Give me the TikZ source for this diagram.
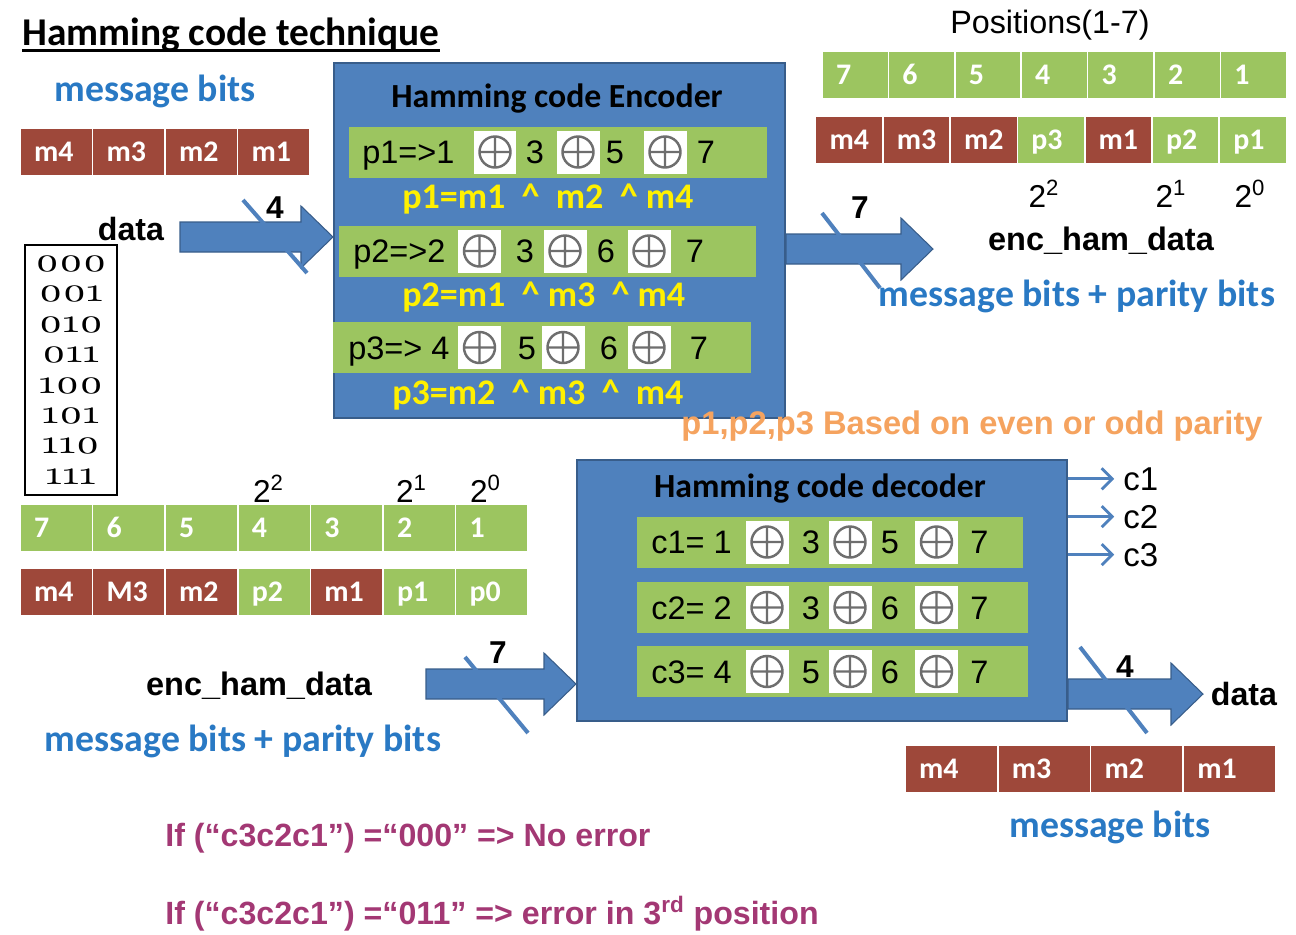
\documentclass[tikz,border=0pt]{standalone}
\usepackage{fontspec}
\usepackage{tikz}
\usepackage{xcolor}
\usetikzlibrary{calc,arrows.meta,positioning}
\setmainfont{Liberation Sans}
\newfontfamily\calfont{Carlito}
\newfontfamily\oldfont{lmroman10-regular.otf}[Numbers=OldStyle,FakeStretch=1.25]
\newcommand{\fsize}[1]{\fontsize{#1}{#1}\selectfont}
\definecolor{coderblue}{RGB}{79,129,189}
\definecolor{coderline}{RGB}{56,93,138}
\definecolor{leaf}{RGB}{156,197,96}
\definecolor{brick}{RGB}{158,72,58}
\definecolor{msgblue}{RGB}{41,121,196}
\definecolor{formula}{RGB}{255,240,0}
\definecolor{parity}{RGB}{245,163,95}
\definecolor{rulepink}{RGB}{163,56,116}
\definecolor{xorgray}{RGB}{110,110,110}
\tikzstyle{txt} = [inner sep=0pt]
\tikzstyle{coder} = [
    rectangle,
    fill=coderblue,
    draw=coderline,
    line width=1.2pt
]
\tikzstyle{bar} = [
    rectangle,
    fill=leaf,
    inner sep=0pt,
    minimum height=1.02cm
]
\tikzstyle{rowtext} = [
    inner sep=0pt,
    font=\fsize{18.5},
    text height=13.2pt,
    text depth=0pt
]
\tikzstyle{xorbox} = [
    rectangle,
    fill=white,
    minimum size=0.86cm,
    inner sep=0pt,
    path picture={
        \coordinate (xc) at (path picture bounding box.center);
        \draw[xorgray, line width=1.4pt] (xc) circle (0.31cm)
            (xc) ++(0,0.31cm) -- ++(0,-0.62cm)
            (xc) ++(-0.31cm,0) -- ++(0.62cm,0);
    }
]
\tikzstyle{cell} = [
    rectangle,
    draw=white,
    line width=1pt,
    text=white,
    font=\calfont\bfseries\fsize{17},
    align=left,
    inner xsep=0.28cm,
    inner ysep=0pt,
    minimum height=0.96cm,
    text height=10.7pt,
    text depth=0pt
]
\tikzstyle{fatarrow} = [
    fill=coderblue,
    draw=coderline,
    line width=0.6pt,
    to path={let \p1=(\tikztostart), \p2=(\tikztotarget) in
        (\x1,\y1+0.3cm) -- (\x2-0.64cm,\y1+0.3cm) -- (\x2-0.64cm,\y1+0.62cm)
        -- (\x2,\y1) -- (\x2-0.64cm,\y1-0.62cm) -- (\x2-0.64cm,\y1-0.3cm)
        -- (\x1,\y1-0.3cm) -- cycle}
]
\tikzstyle{slash} = [draw=coderblue, line width=2.3pt]
\tikzstyle{thinarrow} = [
    draw=coderblue,
    line width=1.6pt,
    -{Straight Barb[length=6pt,width=12pt]},
    shorten >=5pt
]

\begin{document}
\begin{tikzpicture}[x=0.02cm, y=-0.02cm]
    \useasboundingbox (0,0) rectangle (1296,934);

    % Title
    \node[txt, anchor=base west, font=\calfont\bfseries\fsize{22.4}] (title) at (22,45) {Hamming code technique};
    \draw[line width=1.7pt] ([yshift=-3.4pt]title.base west) -- ([yshift=-3.4pt]title.base east);

    % Message bits (input)
    \node[txt, anchor=base, text=msgblue, font=\calfont\bfseries\fsize{21.5}] (msgtop) at (155,101) {message bits};
    \foreach \t [count=\i] in {m4,m3,m2,m1}
        \node[cell, fill=brick, text width=0.89cm] (msg\i) at ({20+72.5*(\i-0.5)},152) {\t};
    \node[txt, anchor=base, font=\bfseries\fsize{18.3}] (datain) at (131,240) {data};
    \node[draw, line width=0.9pt, minimum width=1.84cm, minimum height=5cm, align=center,
        font=\oldfont\fontsize{19}{17.3}\selectfont, inner sep=0pt] (codes) at (71,370)
        {000\\001\\010\\011\\100\\101\\110\\111};

    % Encoder
    \node[coder, minimum width=9.02cm, minimum height=7.1cm] (enc) at (559.5,240.5) {};
    \node[txt, anchor=base, font=\calfont\bfseries\fsize{19.2}] (enctitle) at (557,107) {Hamming code Encoder};

    \node[bar, minimum width=8.36cm] (er1) at (558,152) {};
    \node[rowtext, anchor=west] (er1t) at (362,152) {p1=>1};
    \foreach \x [count=\i] in {495,578,665}
        \node[xorbox] (er1x\i) at (\x,152) {};
    \foreach \x/\d in {535/3,615/5,706/7}
        \node[rowtext] (er1d\d) at (\x,152) {\d};
    \node[txt, anchor=base west, text=formula, font=\calfont\bfseries\fsize{20.5}] (f1) at (402,208)
        {p1=m1\ \ \textasciicircum\ \ m2\ \ \textasciicircum\ m4};

    \node[bar, minimum width=8.34cm] (er2) at (547.5,251) {};
    \node[rowtext, anchor=west] (er2t) at (353,251) {p2=>2};
    \foreach \x [count=\i] in {479.5,565,649}
        \node[xorbox] (er2x\i) at (\x,251) {};
    \foreach \x/\d in {525/3,606/6,695/7}
        \node[rowtext] (er2d\d) at (\x,251) {\d};
    \node[txt, anchor=base west, text=formula, font=\calfont\bfseries\fsize{20.5}] (f2) at (402,306)
        {p2=m1\ \ \textasciicircum\ m3\ \ \textasciicircum\ m4};

    \node[bar, minimum width=8.36cm] (er3) at (542,347.5) {};
    \node[rowtext, anchor=west] (er3t) at (348,347.5) {p3=> 4};
    \foreach \x [count=\i] in {479.5,563,649}
        \node[xorbox] (er3x\i) at (\x,347.5) {};
    \foreach \x/\d in {527/5,609/6,699/7}
        \node[rowtext] (er3d\d) at (\x,347.5) {\d};
    \node[txt, anchor=base west, text=formula, font=\calfont\bfseries\fsize{20.5}] (f3) at (392,404)
        {p3=m2\ \ \textasciicircum\ m3\ \ \textasciicircum\ \ m4};

    % Encoder arrows
    \coordinate (din) at (180,237);
    \draw[fatarrow] (din) to (enc.west |- din);
    \draw[slash] (243,200) -- (307,273);
    \node[txt, anchor=base, font=\bfseries\fsize{18}] (w4a) at (275,218) {4};

    \coordinate (encout) at (933,249);
    \draw[fatarrow] (enc.east |- encout) to (encout);
    \draw[slash] (822,213) -- (880,288);
    \node[txt, anchor=base, font=\bfseries\fsize{18}] (w7a) at (860,218) {7};

    % Positions (top right)
    \node[txt, anchor=base, font=\fsize{18.4}] (postitle) at (1050,33) {Positions(1-7)};
    \foreach \t [count=\i] in {7,6,5,4,3,2,1}
        \node[cell, fill=leaf, text width=0.768cm] (pos\i) at ({822+66.4*(\i-0.5)},75) {\t};
    \foreach \t/\c [count=\i] in {m4/brick,m3/brick,m2/brick,p3/leaf,m1/brick,p2/leaf,p1/leaf}
        \node[cell, fill=\c, text width=0.786cm] (bit\i) at ({815.5+67.3*(\i-0.5)},140) {\t};
    \node[txt, anchor=base, font=\fsize{18}] (pw2a) at (1044,207) {2\textsuperscript{2}};
    \node[txt, anchor=base, font=\fsize{18}] (pw1a) at (1171,207) {2\textsuperscript{1}};
    \node[txt, anchor=base, font=\fsize{18}] (pw0a) at (1250,207) {2\textsuperscript{0}};
    \node[txt, anchor=base, font=\bfseries\fsize{18.5}] (hamtop) at (1101,250) {enc\_ham\_data};
    \node[txt, anchor=base, text=msgblue, font=\calfont\bfseries\fsize{21.5}] (mpbtop) at (1077,306) {message bits + parity bits};
    \node[txt, anchor=base, text=parity, font=\bfseries\fsize{18.6}] (paritynote) at (972,434) {p1,p2,p3 Based on even or odd parity};

    % Positions (bottom left)
    \node[txt, anchor=base, font=\fsize{18}] (pw2b) at (268.5,502) {2\textsuperscript{2}};
    \node[txt, anchor=base, font=\fsize{18}] (pw1b) at (411.5,502) {2\textsuperscript{1}};
    \node[txt, anchor=base, font=\fsize{18}] (pw0b) at (485.5,502) {2\textsuperscript{0}};
    \foreach \t [count=\i] in {7,6,5,4,3,2,1}
        \node[cell, fill=leaf, text width=0.892cm] (rpos\i) at ({20+72.6*(\i-0.5)},528) {\t};
    \foreach \t/\c [count=\i] in {m4/brick,M3/brick,m2/brick,p2/leaf,m1/brick,p1/leaf,p0/leaf}
        \node[cell, fill=\c, text width=0.892cm] (rbit\i) at ({20+72.6*(\i-0.5)},592) {\t};

    % Decoder
    \node[coder, minimum width=9.8cm, minimum height=5.22cm] (dec) at (822,590.5) {};
    \node[txt, anchor=base, font=\calfont\bfseries\fsize{19.2}] (dectitle) at (820,497) {Hamming code decoder};

    \node[bar, minimum width=7.72cm] (dr1) at (830,542) {};
    \node[rowtext, anchor=west] (dr1t) at (651,542) {c1= 1};
    \foreach \x [count=\i] in {767,850,936.5}
        \node[xorbox] (dr1x\i) at (\x,542) {};
    \foreach \x/\d in {811/3,890/5,979.5/7}
        \node[rowtext] (dr1d\d) at (\x,542) {\d};

    \node[bar, minimum width=7.82cm] (dr2) at (832.5,607.5) {};
    \node[rowtext, anchor=west] (dr2t) at (651,607.5) {c2= 2};
    \foreach \x [count=\i] in {767,850,936.5}
        \node[xorbox] (dr2x\i) at (\x,607.5) {};
    \foreach \x/\d in {811/3,890/6,979.5/7}
        \node[rowtext] (dr2d\d) at (\x,607.5) {\d};

    \node[bar, minimum width=7.82cm] (dr3) at (832.5,671.5) {};
    \node[rowtext, anchor=west] (dr3t) at (651,671.5) {c3= 4};
    \foreach \x [count=\i] in {767,850,936.5}
        \node[xorbox] (dr3x\i) at (\x,671.5) {};
    \foreach \x/\d in {811/5,890/6,979.5/7}
        \node[rowtext] (dr3d\d) at (\x,671.5) {\d};

    % Syndrome outputs
    \node[txt, anchor=base west, font=\fsize{18.8}] (c1) at (1123,490) {c1};
    \node[txt, anchor=base west, font=\fsize{18.8}] (c2) at (1123,528) {c2};
    \node[txt, anchor=base west, font=\fsize{18.8}] (c3) at (1123,566) {c3};
    \foreach \c in {c1,c2,c3}
        \draw[thinarrow] (dec.east |- \c.west) -- (\c.west);

    % Decoder arrows
    \coordinate (decin) at (426,684);
    \draw[fatarrow] (decin) to (dec.west |- decin);
    \draw[slash] (465,657) -- (528,733);
    \node[txt, anchor=base, font=\bfseries\fsize{18}] (w7b) at (498,663) {7};
    \node[txt, anchor=base, font=\bfseries\fsize{18.5}] (hambot) at (259,695) {enc\_ham\_data};
    \node[txt, anchor=base, text=msgblue, font=\calfont\bfseries\fsize{21.5}] (mpbbot) at (243,751) {message bits + parity bits};

    \coordinate (decout) at (1203,694);
    \draw[fatarrow] (dec.east |- decout) to (decout);
    \draw[slash] (1080,647) -- (1147,733);
    \node[txt, anchor=base, font=\bfseries\fsize{18}] (w4b) at (1125,677) {4};
    \node[txt, anchor=base, font=\bfseries\fsize{18.3}] (dataout) at (1244,705) {data};
    \foreach \t [count=\i] in {m4,m3,m2,m1}
        \node[cell, fill=brick, text width=1.295cm] (out\i) at ({905+92.75*(\i-0.5)},769) {\t};
    \node[txt, anchor=base, text=msgblue, font=\calfont\bfseries\fsize{21.5}] (msgbot) at (1110,837) {message bits};

    % Syndrome rules
    \node[txt, anchor=base west, text=rulepink, font=\bfseries\fsize{18.3}] (rule1) at (165,846) {If (“c3c2c1”) =“000” => No error};
    \node[txt, anchor=base west, text=rulepink, font=\bfseries\fsize{18.3}] (rule2) at (165,924) {If (“c3c2c1”) =“011” => error in 3\textsuperscript{rd} position};
\end{tikzpicture}
\end{document}
